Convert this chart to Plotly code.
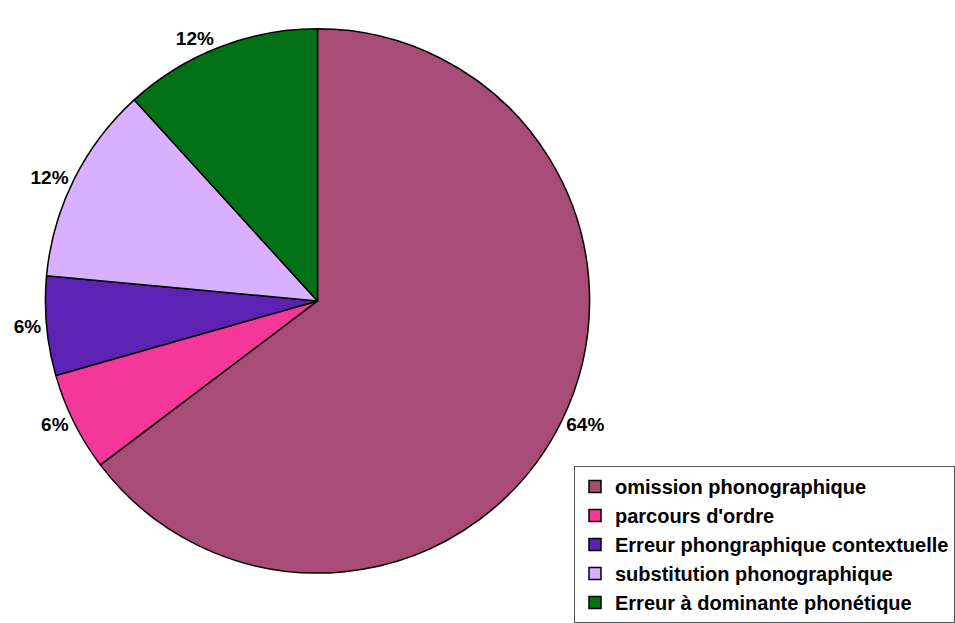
import plotly.graph_objects as go

categories = [
    "omission phonographique",
    "parcours d'ordre",
    "Erreur phongraphique contextuelle",
    "substitution phonographique",
    "Erreur à dominante phonétique",
]
counts = [11, 1, 1, 2, 2]
pct_labels = ["64%", "6%", "6%", "12%", "12%"]
colors = ["#A94B77", "#F43799", "#5B22B3", "#D8B0FF", "#037118"]

FONT = "Liberation Sans, Arial, sans-serif"

fig = go.Figure(
    go.Pie(
        labels=categories,
        values=counts,
        text=pct_labels,
        textinfo="text",
        textposition="outside",
        sort=False,
        direction="clockwise",
        rotation=0,
        marker=dict(colors=colors, line=dict(color="#000000", width=1.5)),
        textfont=dict(family=FONT, size=19, color="#000000", weight="bold"),
        domain=dict(x=[29 / 955, 595 / 955], y=[1 - 596 / 623, 1 - 30 / 623]),
        hoverinfo="label+percent",
    )
)

fig.update_layout(
    width=955,
    height=623,
    margin=dict(l=0, r=0, t=0, b=0),
    paper_bgcolor="white",
    plot_bgcolor="white",
    showlegend=True,
    legend=dict(
        x=575 / 955,
        y=1 - 485 / 623,
        xanchor="left",
        yanchor="top",
        bordercolor="#555555",
        borderwidth=1,
        bgcolor="white",
        font=dict(family=FONT, size=20, color="#000000", weight="bold"),
        tracegroupgap=0,
    ),
)

fig.write_html("out.html")
